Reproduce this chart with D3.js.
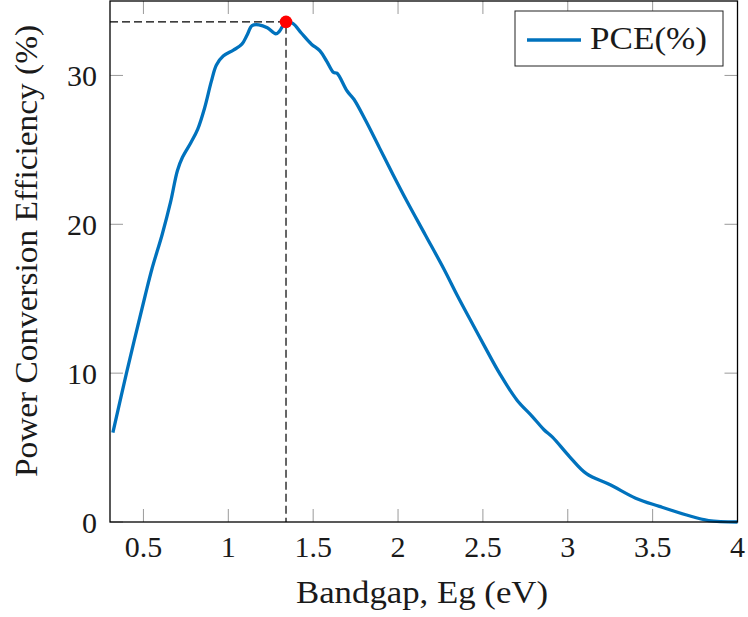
<!DOCTYPE html>
<html>
<head>
<meta charset="utf-8">
<script src="https://cdn.jsdelivr.net/npm/d3@7"></script>
<style>
  html, body { margin: 0; padding: 0; background: #fff; }
  svg { display: block; }
  text { font-family: "Liberation Serif", "DejaVu Serif", serif; fill: #1a1a1a; }
</style>
</head>
<body>
<svg id="chart" width="748" height="617"></svg>
<script>
// Bandgap (eV) and power conversion efficiency (%)
const bandgap = [0.32, 0.40, 0.51, 0.55, 0.61, 0.66, 0.70, 0.73, 0.78, 0.82, 0.86, 0.90, 0.93, 0.97,
  1.03, 1.08, 1.11, 1.14, 1.18, 1.23, 1.28, 1.30, 1.34, 1.38, 1.43, 1.49, 1.54, 1.58, 1.62, 1.64,
  1.70, 1.74, 1.81, 1.89, 1.97, 2.05, 2.16, 2.27, 2.35, 2.42, 2.51, 2.60, 2.70, 2.79, 2.86, 2.91,
  3.01, 3.11, 3.25, 3.40, 3.54, 3.70, 3.83, 4.00];
const pce = [6.0, 10.0, 15.2, 17.0, 19.3, 21.5, 23.6, 24.5, 25.5, 26.4, 27.8, 29.6, 30.7, 31.3,
  31.7, 32.1, 32.7, 33.35, 33.4, 33.2, 32.8, 32.95, 33.6, 33.5, 32.85, 32.1, 31.65, 30.95, 30.2, 30.15,
  28.95, 28.4, 26.95, 25.15, 23.35, 21.6, 19.3, 17.0, 15.2, 13.7, 11.8, 9.95, 8.2, 7.1, 6.2, 5.7,
  4.4, 3.25, 2.5, 1.6, 1.05, 0.47, 0.1, 0.0];
const xTicks = [0.5, 1, 1.5, 2, 2.5, 3, 3.5, 4];
const yTicks = [0, 10, 20, 30];
const seriesName = "PCE(%)";
const peak = { eg: 1.34, pce: 33.6 };

const svg = d3.select("#chart");
const margin = { left: 110, right: 10.5, top: 1, bottom: 95 };
const W = 748, H = 617;

const x = d3.scaleLinear().domain([0.303, 4]).range([margin.left, W - margin.right]);
const y = d3.scaleLinear().domain([0, 35]).range([H - margin.bottom, margin.top]);

const tickLen = 13;
const tickColor = "#9a9a9a";
const tickFont = 30;

// inward ticks on all four sides
const g = svg.append("g");
xTicks.forEach(t => {
  g.append("line").attr("x1", x(t)).attr("x2", x(t))
    .attr("y1", y(0)).attr("y2", y(0) - tickLen)
    .attr("stroke", tickColor).attr("stroke-width", 1);
  g.append("line").attr("x1", x(t)).attr("x2", x(t))
    .attr("y1", y(35)).attr("y2", y(35) + tickLen)
    .attr("stroke", tickColor).attr("stroke-width", 1);
  g.append("text").attr("x", x(t)).attr("y", 557)
    .attr("text-anchor", "middle").attr("font-size", tickFont).text(t);
});
yTicks.forEach(t => {
  g.append("line").attr("x1", x.range()[0]).attr("x2", x.range()[0] + tickLen)
    .attr("y1", y(t)).attr("y2", y(t))
    .attr("stroke", tickColor).attr("stroke-width", 1);
  g.append("line").attr("x1", x.range()[1]).attr("x2", x.range()[1] - tickLen)
    .attr("y1", y(t)).attr("y2", y(t))
    .attr("stroke", tickColor).attr("stroke-width", 1);
  g.append("text").attr("x", 97).attr("y", y(t) + 11)
    .attr("text-anchor", "end").attr("font-size", tickFont).text(t);
});

// guide lines to the maximum
svg.append("path")
  .attr("d", `M${x.range()[0]},${y(peak.pce)}H${x(peak.eg)}V${y(0)}`)
  .attr("fill", "none").attr("stroke", "#000").attr("stroke-width", 1.2)
  .attr("stroke-dasharray", "8,4");

// efficiency curve
const pts = bandgap.map((b, i) => [b, pce[i]]);
const line = d3.line().x(d => x(d[0])).y(d => y(d[1])).curve(d3.curveCatmullRom.alpha(0.5));
svg.append("path").datum(pts)
  .attr("d", line)
  .attr("fill", "none").attr("stroke", "#0072BD").attr("stroke-width", 3.3)
  .attr("stroke-linejoin", "round");

// maximum marker
svg.append("circle").attr("cx", x(peak.eg)).attr("cy", y(peak.pce)).attr("r", 6.3)
  .attr("fill", "#ff0000");

// frame
svg.append("rect")
  .attr("x", x.range()[0]).attr("y", y(35))
  .attr("width", x.range()[1] - x.range()[0]).attr("height", y(0) - y(35))
  .attr("fill", "none").attr("stroke", "#000").attr("stroke-width", 1.3);

// axis titles
svg.append("text").attr("x", 296).attr("y", 603)
  .attr("font-size", 32).attr("textLength", 252).attr("lengthAdjust", "spacingAndGlyphs")
  .text("Bandgap, Eg (eV)");
svg.append("text")
  .attr("transform", "translate(37,477) rotate(-90)")
  .attr("font-size", 32).attr("textLength", 452).attr("lengthAdjust", "spacingAndGlyphs")
  .text("Power Conversion Efficiency (%)");

// legend
const lg = svg.append("g");
lg.append("rect").attr("x", 515).attr("y", 11).attr("width", 208).attr("height", 55)
  .attr("fill", "#fff").attr("stroke", "#222").attr("stroke-width", 1);
lg.append("line").attr("x1", 527).attr("x2", 581).attr("y1", 40).attr("y2", 40)
  .attr("stroke", "#0072BD").attr("stroke-width", 3.3);
lg.append("text").attr("x", 590).attr("y", 49)
  .attr("font-size", 31).attr("textLength", 117).attr("lengthAdjust", "spacingAndGlyphs")
  .text(seriesName);
</script>
</body>
</html>
